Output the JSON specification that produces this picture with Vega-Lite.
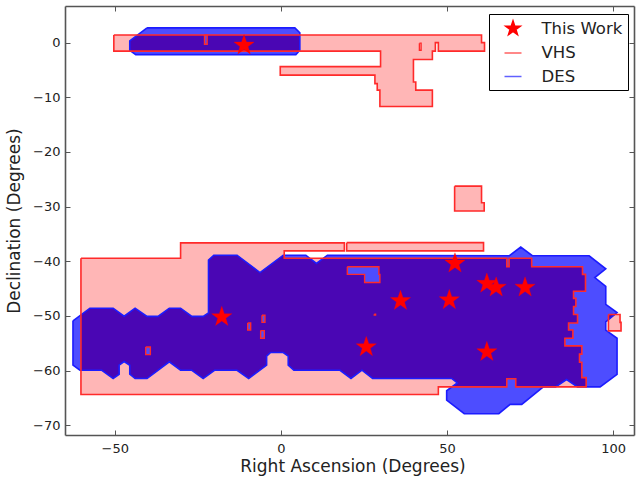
{"$schema":"https://vega.github.io/schema/vega-lite/v6.json","width":569,"height":429,"autosize":{"type":"none"},"padding":{"left":65,"top":6,"right":2,"bottom":44},"background":"white","config":{"font":"DejaVu Sans","view":{"stroke":null},"axis":{"grid":false,"domainColor":"#555555","domainWidth":1.6,"tickColor":"#555555","tickWidth":1,"labelColor":"#222222","titleColor":"#222222","labelFontSize":13,"titleFontSize":17,"titleFontWeight":"normal"}},
"datasets":{
"vhs":[
{"p":1,"i":0,"ra":-50.3,"dec":1.4},{"p":1,"i":1,"ra":60.4,"dec":1.4},{"p":1,"i":2,"ra":60.4,"dec":0},{"p":1,"i":3,"ra":61.3,"dec":0},{"p":1,"i":4,"ra":61.3,"dec":-1.55},{"p":1,"i":5,"ra":47.4,"dec":-1.55},{"p":1,"i":6,"ra":47.4,"dec":0},{"p":1,"i":7,"ra":46.5,"dec":0},{"p":1,"i":8,"ra":46.5,"dec":-1.55},{"p":1,"i":9,"ra":45.6,"dec":-1.55},{"p":1,"i":10,"ra":45.6,"dec":-3.1},{"p":1,"i":11,"ra":39.9,"dec":-3.1},{"p":1,"i":12,"ra":39.9,"dec":-7.2},{"p":1,"i":13,"ra":40.6,"dec":-7.2},{"p":1,"i":14,"ra":40.6,"dec":-8.7},{"p":1,"i":15,"ra":45.6,"dec":-8.7},{"p":1,"i":16,"ra":45.6,"dec":-11.7},{"p":1,"i":17,"ra":29.8,"dec":-11.7},{"p":1,"i":18,"ra":29.8,"dec":-8.7},{"p":1,"i":19,"ra":29,"dec":-8.7},{"p":1,"i":20,"ra":29,"dec":-7.5},{"p":1,"i":21,"ra":28.3,"dec":-7.5},{"p":1,"i":22,"ra":28.3,"dec":-5.95},{"p":1,"i":23,"ra":-0.2,"dec":-5.95},{"p":1,"i":24,"ra":-0.2,"dec":-4.4},{"p":1,"i":25,"ra":30,"dec":-4.4},{"p":1,"i":26,"ra":30,"dec":-1.55},{"p":1,"i":27,"ra":-50.3,"dec":-1.55},{"p":1,"i":28,"ra":-50.3,"dec":1.4},
{"p":2,"i":0,"ra":-60.2,"dec":-39.45},{"p":2,"i":1,"ra":-30.2,"dec":-39.45},{"p":2,"i":2,"ra":-30.2,"dec":-36.64},{"p":2,"i":3,"ra":19.1,"dec":-36.64},{"p":2,"i":4,"ra":19.1,"dec":-38.1},{"p":2,"i":5,"ra":1,"dec":-38.1},{"p":2,"i":6,"ra":1,"dec":-39.45},{"p":2,"i":7,"ra":68,"dec":-39.45},{"p":2,"i":8,"ra":68,"dec":-41},{"p":2,"i":9,"ra":68.7,"dec":-41},{"p":2,"i":10,"ra":68.7,"dec":-39.45},{"p":2,"i":11,"ra":75.5,"dec":-39.45},{"p":2,"i":12,"ra":75.5,"dec":-41},{"p":2,"i":13,"ra":90.8,"dec":-41},{"p":2,"i":14,"ra":90.8,"dec":-42.4},{"p":2,"i":15,"ra":91.7,"dec":-42.4},{"p":2,"i":16,"ra":91.7,"dec":-45.5},{"p":2,"i":17,"ra":88.1,"dec":-45.5},{"p":2,"i":18,"ra":88.1,"dec":-46.8},{"p":2,"i":19,"ra":88.8,"dec":-46.8},{"p":2,"i":20,"ra":88.8,"dec":-48.3},{"p":2,"i":21,"ra":88.1,"dec":-48.3},{"p":2,"i":22,"ra":88.1,"dec":-49.75},{"p":2,"i":23,"ra":89.3,"dec":-49.75},{"p":2,"i":24,"ra":89.3,"dec":-51.3},{"p":2,"i":25,"ra":86.6,"dec":-51.3},{"p":2,"i":26,"ra":86.6,"dec":-52.6},{"p":2,"i":27,"ra":87.9,"dec":-52.6},{"p":2,"i":28,"ra":87.9,"dec":-54.1},{"p":2,"i":29,"ra":85.5,"dec":-54.1},{"p":2,"i":30,"ra":85.5,"dec":-55.5},{"p":2,"i":31,"ra":90.6,"dec":-55.5},{"p":2,"i":32,"ra":90.6,"dec":-57},{"p":2,"i":33,"ra":89.9,"dec":-57},{"p":2,"i":34,"ra":89.9,"dec":-58.5},{"p":2,"i":35,"ra":90.6,"dec":-58.5},{"p":2,"i":36,"ra":90.6,"dec":-61.3},{"p":2,"i":37,"ra":91.9,"dec":-61.3},{"p":2,"i":38,"ra":91.9,"dec":-63},{"p":2,"i":39,"ra":70.7,"dec":-63},{"p":2,"i":40,"ra":70.7,"dec":-61.5},{"p":2,"i":41,"ra":68,"dec":-61.5},{"p":2,"i":42,"ra":68,"dec":-63},{"p":2,"i":43,"ra":47.4,"dec":-63},{"p":2,"i":44,"ra":47.4,"dec":-64.4},{"p":2,"i":45,"ra":-60.2,"dec":-64.4},{"p":2,"i":46,"ra":-60.2,"dec":-39.45},
{"p":3,"i":0,"ra":19.8,"dec":-36.6},{"p":3,"i":1,"ra":61,"dec":-36.6},{"p":3,"i":2,"ra":61,"dec":-38.1},{"p":3,"i":3,"ra":19.8,"dec":-38.1},{"p":3,"i":4,"ra":19.8,"dec":-36.6},
{"p":4,"i":0,"ra":52.3,"dec":-26.26},{"p":4,"i":1,"ra":60.4,"dec":-26.26},{"p":4,"i":2,"ra":60.4,"dec":-29.3},{"p":4,"i":3,"ra":61.2,"dec":-29.3},{"p":4,"i":4,"ra":61.2,"dec":-30.8},{"p":4,"i":5,"ra":52.3,"dec":-30.8},{"p":4,"i":6,"ra":52.3,"dec":-26.26},
{"p":5,"i":0,"ra":98.6,"dec":-49.75},{"p":5,"i":1,"ra":102.1,"dec":-49.75},{"p":5,"i":2,"ra":102.1,"dec":-51.2},{"p":5,"i":3,"ra":102.4,"dec":-51.2},{"p":5,"i":4,"ra":102.4,"dec":-52.74},{"p":5,"i":5,"ra":98.6,"dec":-52.74},{"p":5,"i":6,"ra":98.6,"dec":-49.75}],
"des":[
{"p":1,"i":0,"ra":-40.3,"dec":2.7},{"p":1,"i":1,"ra":4.2,"dec":2.7},{"p":1,"i":2,"ra":5.7,"dec":1.8},{"p":1,"i":3,"ra":5.7,"dec":-1.4},{"p":1,"i":4,"ra":4.5,"dec":-2.2},{"p":1,"i":5,"ra":-43.7,"dec":-2.2},{"p":1,"i":6,"ra":-45.5,"dec":-1.4},{"p":1,"i":7,"ra":-45.5,"dec":0.3},{"p":1,"i":8,"ra":-40.3,"dec":2.7},
{"p":2,"i":0,"ra":-62.6,"dec":-50.9},{"p":2,"i":1,"ra":-57.5,"dec":-48.6},{"p":2,"i":2,"ra":-50.5,"dec":-48.6},{"p":2,"i":3,"ra":-47.2,"dec":-50.06},{"p":2,"i":4,"ra":-43.9,"dec":-48.6},{"p":2,"i":5,"ra":-40.3,"dec":-50.1},{"p":2,"i":6,"ra":-37,"dec":-50.1},{"p":2,"i":7,"ra":-33.6,"dec":-48.6},{"p":2,"i":8,"ra":-30.2,"dec":-48.6},{"p":2,"i":9,"ra":-26.8,"dec":-50.1},{"p":2,"i":10,"ra":-23.4,"dec":-50.1},{"p":2,"i":11,"ra":-21.8,"dec":-49.45},{"p":2,"i":12,"ra":-21.8,"dec":-39.8},{"p":2,"i":13,"ra":-20.2,"dec":-38.9},{"p":2,"i":14,"ra":-13.2,"dec":-38.9},{"p":2,"i":15,"ra":-6.3,"dec":-42.07},{"p":2,"i":16,"ra":0.7,"dec":-38.9},{"p":2,"i":17,"ra":7.5,"dec":-38.9},{"p":2,"i":18,"ra":10.7,"dec":-40.4},{"p":2,"i":19,"ra":14,"dec":-38.9},{"p":2,"i":20,"ra":68.8,"dec":-39},{"p":2,"i":21,"ra":72.2,"dec":-37.4},{"p":2,"i":22,"ra":75.7,"dec":-39},{"p":2,"i":23,"ra":92.8,"dec":-39},{"p":2,"i":24,"ra":97.8,"dec":-41.4},{"p":2,"i":25,"ra":94.5,"dec":-43},{"p":2,"i":26,"ra":97.8,"dec":-44.6},{"p":2,"i":27,"ra":97.8,"dec":-47.9},{"p":2,"i":28,"ra":101.2,"dec":-49.4},{"p":2,"i":29,"ra":97.8,"dec":-51.1},{"p":2,"i":30,"ra":97.8,"dec":-52.6},{"p":2,"i":31,"ra":101.2,"dec":-54.1},{"p":2,"i":32,"ra":101.2,"dec":-60.7},{"p":2,"i":33,"ra":96.1,"dec":-63},{"p":2,"i":34,"ra":89.3,"dec":-63},{"p":2,"i":35,"ra":86,"dec":-61.65},{"p":2,"i":36,"ra":82.7,"dec":-63},{"p":2,"i":37,"ra":79,"dec":-63},{"p":2,"i":38,"ra":72.5,"dec":-66.2},{"p":2,"i":39,"ra":69,"dec":-66.2},{"p":2,"i":40,"ra":65.6,"dec":-67.9},{"p":2,"i":41,"ra":55.2,"dec":-67.9},{"p":2,"i":42,"ra":49.9,"dec":-65.4},{"p":2,"i":43,"ra":49.9,"dec":-63.7},{"p":2,"i":44,"ra":53.1,"dec":-62.26},{"p":2,"i":45,"ra":51.4,"dec":-61.46},{"p":2,"i":46,"ra":27.6,"dec":-61.46},{"p":2,"i":47,"ra":24.4,"dec":-59.94},{"p":2,"i":48,"ra":21.1,"dec":-61.46},{"p":2,"i":49,"ra":17.8,"dec":-59.95},{"p":2,"i":50,"ra":3.9,"dec":-59.95},{"p":2,"i":51,"ra":2.2,"dec":-59.03},{"p":2,"i":52,"ra":2.2,"dec":-57.38},{"p":2,"i":53,"ra":0.7,"dec":-56.71},{"p":2,"i":54,"ra":-3.1,"dec":-56.71},{"p":2,"i":55,"ra":-4.3,"dec":-57.38},{"p":2,"i":56,"ra":-4.3,"dec":-59.03},{"p":2,"i":57,"ra":-9.7,"dec":-61.47},{"p":2,"i":58,"ra":-13.2,"dec":-59.95},{"p":2,"i":59,"ra":-20,"dec":-59.95},{"p":2,"i":60,"ra":-23.4,"dec":-61.47},{"p":2,"i":61,"ra":-26.8,"dec":-59.95},{"p":2,"i":62,"ra":-30.2,"dec":-59.95},{"p":2,"i":63,"ra":-33.6,"dec":-58.4},{"p":2,"i":64,"ra":-40.3,"dec":-61.47},{"p":2,"i":65,"ra":-43.9,"dec":-61.47},{"p":2,"i":66,"ra":-45.5,"dec":-60.68},{"p":2,"i":67,"ra":-45.5,"dec":-59.03},{"p":2,"i":68,"ra":-47.2,"dec":-58.36},{"p":2,"i":69,"ra":-48.7,"dec":-59.03},{"p":2,"i":70,"ra":-48.7,"dec":-60.68},{"p":2,"i":71,"ra":-50.5,"dec":-61.47},{"p":2,"i":72,"ra":-53.9,"dec":-59.95},{"p":2,"i":73,"ra":-60.5,"dec":-59.95},{"p":2,"i":74,"ra":-62.6,"dec":-59.03},{"p":2,"i":75,"ra":-62.6,"dec":-50.9}],
"overlap":[
{"p":1,"i":0,"ra":-43.1,"dec":1.4},{"p":1,"i":1,"ra":5.7,"dec":1.4},{"p":1,"i":2,"ra":5.7,"dec":-1.55},{"p":1,"i":3,"ra":-45.2,"dec":-1.55},{"p":1,"i":4,"ra":-45.5,"dec":-1.4},{"p":1,"i":5,"ra":-45.5,"dec":0.3},{"p":1,"i":6,"ra":-43.1,"dec":1.4},
{"p":2,"i":0,"ra":-60.2,"dec":-49.82},{"p":2,"i":1,"ra":-57.5,"dec":-48.6},{"p":2,"i":2,"ra":-50.5,"dec":-48.6},{"p":2,"i":3,"ra":-47.2,"dec":-50.06},{"p":2,"i":4,"ra":-43.9,"dec":-48.6},{"p":2,"i":5,"ra":-40.3,"dec":-50.1},{"p":2,"i":6,"ra":-37,"dec":-50.1},{"p":2,"i":7,"ra":-33.6,"dec":-48.6},{"p":2,"i":8,"ra":-30.2,"dec":-48.6},{"p":2,"i":9,"ra":-26.8,"dec":-50.1},{"p":2,"i":10,"ra":-23.4,"dec":-50.1},{"p":2,"i":11,"ra":-21.8,"dec":-49.45},{"p":2,"i":12,"ra":-21.8,"dec":-39.8},{"p":2,"i":13,"ra":-20.2,"dec":-38.9},{"p":2,"i":14,"ra":-13.2,"dec":-38.9},{"p":2,"i":15,"ra":-6.3,"dec":-42.07},{"p":2,"i":16,"ra":0.7,"dec":-38.9},{"p":2,"i":17,"ra":1,"dec":-38.9},{"p":2,"i":18,"ra":1,"dec":-39.45},{"p":2,"i":19,"ra":8.67,"dec":-39.45},{"p":2,"i":20,"ra":10.7,"dec":-40.4},{"p":2,"i":21,"ra":12.8,"dec":-39.45},{"p":2,"i":22,"ra":68,"dec":-39.45},{"p":2,"i":23,"ra":68,"dec":-41},{"p":2,"i":24,"ra":68.7,"dec":-41},{"p":2,"i":25,"ra":68.7,"dec":-39.45},{"p":2,"i":26,"ra":75.5,"dec":-39.45},{"p":2,"i":27,"ra":75.5,"dec":-41},{"p":2,"i":28,"ra":90.8,"dec":-41},{"p":2,"i":29,"ra":90.8,"dec":-42.4},{"p":2,"i":30,"ra":91.7,"dec":-42.4},{"p":2,"i":31,"ra":91.7,"dec":-45.5},{"p":2,"i":32,"ra":88.1,"dec":-45.5},{"p":2,"i":33,"ra":88.1,"dec":-46.8},{"p":2,"i":34,"ra":88.8,"dec":-46.8},{"p":2,"i":35,"ra":88.8,"dec":-48.3},{"p":2,"i":36,"ra":88.1,"dec":-48.3},{"p":2,"i":37,"ra":88.1,"dec":-49.75},{"p":2,"i":38,"ra":89.3,"dec":-49.75},{"p":2,"i":39,"ra":89.3,"dec":-51.3},{"p":2,"i":40,"ra":86.6,"dec":-51.3},{"p":2,"i":41,"ra":86.6,"dec":-52.6},{"p":2,"i":42,"ra":87.9,"dec":-52.6},{"p":2,"i":43,"ra":87.9,"dec":-54.1},{"p":2,"i":44,"ra":85.5,"dec":-54.1},{"p":2,"i":45,"ra":85.5,"dec":-55.5},{"p":2,"i":46,"ra":90.6,"dec":-55.5},{"p":2,"i":47,"ra":90.6,"dec":-57},{"p":2,"i":48,"ra":89.9,"dec":-57},{"p":2,"i":49,"ra":89.9,"dec":-58.5},{"p":2,"i":50,"ra":90.6,"dec":-58.5},{"p":2,"i":51,"ra":90.6,"dec":-61.3},{"p":2,"i":52,"ra":91.9,"dec":-61.3},{"p":2,"i":53,"ra":91.9,"dec":-63},{"p":2,"i":54,"ra":89.3,"dec":-63},{"p":2,"i":55,"ra":86,"dec":-61.65},{"p":2,"i":56,"ra":82.7,"dec":-63},{"p":2,"i":57,"ra":70.7,"dec":-63},{"p":2,"i":58,"ra":70.7,"dec":-61.5},{"p":2,"i":59,"ra":68,"dec":-61.5},{"p":2,"i":60,"ra":68,"dec":-63},{"p":2,"i":61,"ra":51.5,"dec":-63},{"p":2,"i":62,"ra":53.1,"dec":-62.26},{"p":2,"i":63,"ra":51.4,"dec":-61.46},{"p":2,"i":64,"ra":27.6,"dec":-61.46},{"p":2,"i":65,"ra":24.4,"dec":-59.94},{"p":2,"i":66,"ra":21.1,"dec":-61.46},{"p":2,"i":67,"ra":17.8,"dec":-59.95},{"p":2,"i":68,"ra":3.9,"dec":-59.95},{"p":2,"i":69,"ra":2.2,"dec":-59.03},{"p":2,"i":70,"ra":2.2,"dec":-57.38},{"p":2,"i":71,"ra":0.7,"dec":-56.71},{"p":2,"i":72,"ra":-3.1,"dec":-56.71},{"p":2,"i":73,"ra":-4.3,"dec":-57.38},{"p":2,"i":74,"ra":-4.3,"dec":-59.03},{"p":2,"i":75,"ra":-9.7,"dec":-61.47},{"p":2,"i":76,"ra":-13.2,"dec":-59.95},{"p":2,"i":77,"ra":-20,"dec":-59.95},{"p":2,"i":78,"ra":-23.4,"dec":-61.47},{"p":2,"i":79,"ra":-26.8,"dec":-59.95},{"p":2,"i":80,"ra":-30.2,"dec":-59.95},{"p":2,"i":81,"ra":-33.6,"dec":-58.4},{"p":2,"i":82,"ra":-40.3,"dec":-61.47},{"p":2,"i":83,"ra":-43.9,"dec":-61.47},{"p":2,"i":84,"ra":-45.5,"dec":-60.68},{"p":2,"i":85,"ra":-45.5,"dec":-59.03},{"p":2,"i":86,"ra":-47.2,"dec":-58.36},{"p":2,"i":87,"ra":-48.7,"dec":-59.03},{"p":2,"i":88,"ra":-48.7,"dec":-60.68},{"p":2,"i":89,"ra":-50.5,"dec":-61.47},{"p":2,"i":90,"ra":-53.9,"dec":-59.95},{"p":2,"i":91,"ra":-60.2,"dec":-59.95},{"p":2,"i":92,"ra":-60.2,"dec":-49.82},
{"p":3,"i":0,"ra":98.6,"dec":-49.75},{"p":3,"i":1,"ra":100.7,"dec":-49.75},{"p":3,"i":2,"ra":98.6,"dec":-50.65},{"p":3,"i":3,"ra":98.6,"dec":-49.75}],
"gapdes":[
{"p":1,"i":0,"ra":-23,"dec":1.4},{"p":1,"i":1,"ra":-22.2,"dec":1.4},{"p":1,"i":2,"ra":-22.2,"dec":-0.3},{"p":1,"i":3,"ra":-23,"dec":-0.3},{"p":1,"i":4,"ra":-23,"dec":1.4},
{"p":2,"i":0,"ra":20,"dec":-41},{"p":2,"i":1,"ra":29.5,"dec":-41},{"p":2,"i":2,"ra":29.5,"dec":-42.4},{"p":2,"i":3,"ra":29.8,"dec":-42.4},{"p":2,"i":4,"ra":29.8,"dec":-43.9},{"p":2,"i":5,"ra":25.2,"dec":-43.9},{"p":2,"i":6,"ra":25.2,"dec":-42.4},{"p":2,"i":7,"ra":20,"dec":-42.4},{"p":2,"i":8,"ra":20,"dec":-41},
{"p":3,"i":0,"ra":-40.7,"dec":-55.7},{"p":3,"i":1,"ra":-39.3,"dec":-55.7},{"p":3,"i":2,"ra":-39.3,"dec":-57.1},{"p":3,"i":3,"ra":-40.7,"dec":-57.1},{"p":3,"i":4,"ra":-40.7,"dec":-55.7},
{"p":4,"i":0,"ra":-10,"dec":-51.3},{"p":4,"i":1,"ra":-9.1,"dec":-51.3},{"p":4,"i":2,"ra":-9.1,"dec":-52.6},{"p":4,"i":3,"ra":-10,"dec":-52.6},{"p":4,"i":4,"ra":-10,"dec":-51.3},
{"p":5,"i":0,"ra":-5.7,"dec":-49.9},{"p":5,"i":1,"ra":-4.8,"dec":-49.9},{"p":5,"i":2,"ra":-4.8,"dec":-51.2},{"p":5,"i":3,"ra":-5.7,"dec":-51.2},{"p":5,"i":4,"ra":-5.7,"dec":-49.9},
{"p":6,"i":0,"ra":-6.1,"dec":-52.7},{"p":6,"i":1,"ra":-5,"dec":-52.7},{"p":6,"i":2,"ra":-5,"dec":-54.1},{"p":6,"i":3,"ra":-6.1,"dec":-54.1},{"p":6,"i":4,"ra":-6.1,"dec":-52.7},
{"p":7,"i":0,"ra":28.1,"dec":-49.7},{"p":7,"i":1,"ra":28.5,"dec":-49.7},{"p":7,"i":2,"ra":28.5,"dec":-49.85},{"p":7,"i":3,"ra":28.1,"dec":-49.85},{"p":7,"i":4,"ra":28.1,"dec":-49.7}],
"gapwhite":[
{"p":8,"i":0,"ra":41.7,"dec":-0.1},{"p":8,"i":1,"ra":42.2,"dec":-0.1},{"p":8,"i":2,"ra":42.2,"dec":-1.4},{"p":8,"i":3,"ra":41.7,"dec":-1.4},{"p":8,"i":4,"ra":41.7,"dec":-0.1}],
"stars":[
{"series":"This Work","ra":-11.1,"dec":-0.5},{"series":"This Work","ra":-17.8,"dec":-50.2},{"series":"This Work","ra":25.7,"dec":-55.7},{"series":"This Work","ra":36,"dec":-47.25},{"series":"This Work","ra":50.7,"dec":-47.1},{"series":"This Work","ra":52.4,"dec":-40.4},{"series":"This Work","ra":62,"dec":-44.1},{"series":"This Work","ra":64.8,"dec":-44.8},{"series":"This Work","ra":73.5,"dec":-44.8},{"series":"This Work","ra":62,"dec":-56.6}]},
"resolve":{"scale":{"x":"independent","y":"independent","fill":"independent","stroke":"independent","shape":"independent"},"axis":{"x":"independent","y":"independent"}},
"encoding":{"x":{"field":"ra","type":"quantitative","scale":{"domain":[-65,106.3],"nice":false,"zero":false},"axis":null},"y":{"field":"dec","type":"quantitative","scale":{"domain":[-71.8,6.7],"nice":false,"zero":false},"axis":null}},
"layer":[
{"data":{"name":"vhs"},"mark":{"type":"line","fill":"#ffb6b6","stroke":null,"strokeWidth":0},
"encoding":{"detail":{"field":"p"},"order":{"field":"i","type":"quantitative"},
"x":{"field":"ra","type":"quantitative","scale":{"domain":[-65,106.3],"nice":false,"zero":false},"axis":{"orient":"bottom","title":"Right Ascension (Degrees)","values":[-50,0,50,100],"format":"d","tickSize":-5,"labelPadding":12,"titlePadding":3,"titleX":287.5,"labelExpr":"replace(datum.label,'-','−')"}},
"y":{"field":"dec","type":"quantitative","scale":{"domain":[-71.8,6.7],"nice":false,"zero":false},"axis":{"orient":"left","title":"Declination (Degrees)","values":[0,-10,-20,-30,-40,-50,-60,-70],"format":"d","tickSize":-5,"labelPadding":10,"titlePadding":9,"labelExpr":"replace(datum.label,'-','−')"}}}},
{"data":{"name":"des"},"mark":{"type":"line","fill":"#4d4dff","stroke":null,"strokeWidth":0},"encoding":{"detail":{"field":"p"},"order":{"field":"i","type":"quantitative"}}},
{"data":{"name":"overlap"},"mark":{"type":"line","fill":"#4a06b4","stroke":null,"strokeWidth":0},"encoding":{"detail":{"field":"p"},"order":{"field":"i","type":"quantitative"}}},
{"data":{"name":"gapdes"},"mark":{"type":"line","fill":"#4d4dff","stroke":null,"strokeWidth":0},"encoding":{"detail":{"field":"p"},"order":{"field":"i","type":"quantitative"}}},
{"data":{"name":"gapwhite"},"mark":{"type":"line","fill":"#ffffff","stroke":null,"strokeWidth":0},"encoding":{"detail":{"field":"p"},"order":{"field":"i","type":"quantitative"}}},
{"data":{"name":"des"},"mark":{"type":"line","stroke":"#1c1cff","strokeWidth":1.6},"encoding":{"detail":{"field":"p"},"order":{"field":"i","type":"quantitative"}}},
{"data":{"name":"vhs"},"mark":{"type":"line","stroke":"#ff2a2a","strokeWidth":1.6},"encoding":{"detail":{"field":"p"},"order":{"field":"i","type":"quantitative"}}},
{"data":{"name":"gapdes"},"mark":{"type":"line","stroke":"#ff2a2a","strokeWidth":1.4},"encoding":{"detail":{"field":"p"},"order":{"field":"i","type":"quantitative"}}},
{"data":{"name":"gapwhite"},"mark":{"type":"line","stroke":"#ff2a2a","strokeWidth":1.4},"encoding":{"detail":{"field":"p"},"order":{"field":"i","type":"quantitative"}}},
{"data":{"name":"stars"},"mark":{"type":"point","filled":true,"size":560,"opacity":1,"strokeWidth":0.3},
"encoding":{
"x":{"field":"ra","type":"quantitative","scale":{"domain":[-65,106.3],"nice":false,"zero":false},"axis":{"orient":"top","title":null,"labels":false,"values":[-50,0,50,100],"tickSize":-5}},
"y":{"field":"dec","type":"quantitative","scale":{"domain":[-71.8,6.7],"nice":false,"zero":false},"axis":{"orient":"right","title":null,"labels":false,"values":[0,-10,-20,-30,-40,-50,-60,-70],"tickSize":-5}},
"shape":{"field":"series","type":"nominal","scale":{"domain":["This Work","VHS","DES"],"range":["M0,-0.9L0.212,-0.278L0.856,-0.278L0.343,0.106L0.529,0.728L0,0.344L-0.529,0.728L-0.343,0.106L-0.856,-0.278L-0.212,-0.278Z","stroke","stroke"]},
"legend":{"title":null,"orient":"none","legendX":424,"legendY":8,"padding":5,"strokeColor":"#000000","fillColor":"#ffffff","cornerRadius":0,"labelFontSize":16.5,"labelColor":"#222222","labelOffset":19,"symbolSize":289,"symbolOffset":9.5,"rowPadding":5.5,"symbolStrokeWidth":1.5,"encode":{"symbols":{"update":{"size":{"signal":"datum.value=='This Work'?520:576"}}}}}},
"fill":{"field":"series","type":"nominal","scale":{"domain":["This Work","VHS","DES"],"range":["#ff0000","#ff6060","#6060ff"]},"legend":null},
"stroke":{"field":"series","type":"nominal","scale":{"domain":["This Work","VHS","DES"],"range":["#ff0000","#ff6060","#6060ff"]},"legend":null}}}
]}
